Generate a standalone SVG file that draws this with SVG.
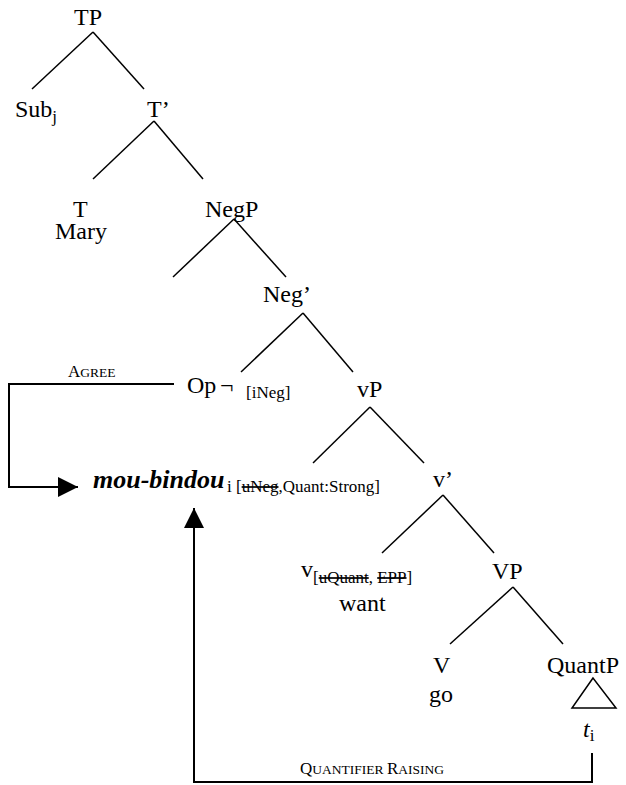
<svg xmlns="http://www.w3.org/2000/svg" width="626" height="785" viewBox="0 0 626 785" font-family="'Liberation Serif', 'DejaVu Serif', serif">
<style>
text{font-family:'Liberation Serif','DejaVu Serif',serif;fill:#000}
.n{font-size:24px}
.s{font-size:17px}
.b{font-size:26px;font-weight:bold;font-style:italic}
.sc1{font-size:17px}
.sc2{font-size:13.5px}
.st{text-decoration:line-through}
.br line{stroke:#000;stroke-width:1.5;fill:none}
.arr{stroke:#000;stroke-width:2;fill:none}
</style>
<defs>
<marker id="ah" markerUnits="userSpaceOnUse" markerWidth="20" markerHeight="20" viewBox="0 0 20 20" refX="20" refY="10" orient="auto">
<path d="M0,0 L20,10 L0,20 z" fill="#000"/>
</marker>
</defs>
<rect width="626" height="785" fill="#fff"/>
<g id="connectors">
<g class="br">
<line x1="93" y1="32" x2="32" y2="89"/>
<line x1="93" y1="32" x2="144" y2="89"/>
<line x1="154" y1="121" x2="93" y2="179"/>
<line x1="154" y1="121" x2="203" y2="179"/>
<line x1="234" y1="219" x2="173" y2="277"/>
<line x1="234" y1="219" x2="286" y2="277"/>
<line x1="303" y1="313" x2="241" y2="372"/>
<line x1="303" y1="313" x2="353" y2="372"/>
<line x1="370" y1="407" x2="313" y2="463"/>
<line x1="370" y1="407" x2="424" y2="463"/>
<line x1="443" y1="495" x2="382" y2="553"/>
<line x1="443" y1="495" x2="494" y2="553"/>
<line x1="513" y1="587" x2="450" y2="644"/>
<line x1="513" y1="587" x2="563" y2="644"/>
</g>
<polyline class="arr" points="174,384 9,384 9,487 78,487" marker-end="url(#ah)"/>
<polyline class="arr" points="592,753 592,782 194,782 194,508" marker-end="url(#ah)"/>
<path d="M593,678 L572,708 L616,708 Z" fill="none" stroke="#000" stroke-width="1.5"/>
</g>
<g id="label-agree"><text x="68" y="377"><tspan class="sc1">A</tspan><tspan class="sc2">GREE</tspan></text></g>
<g id="label-qr"><text x="300" y="774"><tspan class="sc1">Q</tspan><tspan class="sc2">UANTIFIER </tspan><tspan class="sc1">R</tspan><tspan class="sc2">AISING</tspan></text></g>
<g id="TP"><text class="n" x="74" y="25">TP</text></g>
<g id="Subj"><text class="n" x="15" y="117">Sub<tspan class="s" dy="5">j</tspan></text></g>
<g id="Tbar"><text class="n" x="147" y="117">T’</text></g>
<g id="T"><text class="n" x="73" y="217">T</text><text class="n" x="55" y="239">Mary</text></g>
<g id="NegP"><text class="n" x="205" y="217">NegP</text></g>
<g id="Negbar"><text class="n" x="263" y="302">Neg’</text></g>
<g id="Op"><text class="n" x="187" y="393">Op<tspan x="220">¬</tspan><tspan class="s" x="246" dy="5">[iNeg]</tspan></text></g>
<g id="vP"><text class="n" x="357" y="397">vP</text></g>
<g id="moubindou"><text x="93" y="488"><tspan class="b">mou-bindou</tspan><tspan class="s" x="227" dy="4">i [<tspan class="st">uNeg</tspan>,Quant:Strong]</tspan></text></g>
<g id="vbar"><text class="n" x="433" y="487">v’</text></g>
<g id="v"><text class="n" x="301" y="577">v<tspan class="s" dy="6">[<tspan class="st">uQuant</tspan>, <tspan class="st">EPP</tspan>]</tspan></text><text class="n" x="339" y="611">want</text></g>
<g id="VP"><text class="n" x="492" y="579">VP</text></g>
<g id="V"><text class="n" x="433" y="673">V</text><text class="n" x="429" y="702">go</text></g>
<g id="QuantP"><text class="n" x="547" y="673">QuantP</text></g>
<g id="trace"><text x="583" y="737"><tspan class="n" font-style="italic">t</tspan><tspan class="s" dy="4">i</tspan></text></g>
</svg>
